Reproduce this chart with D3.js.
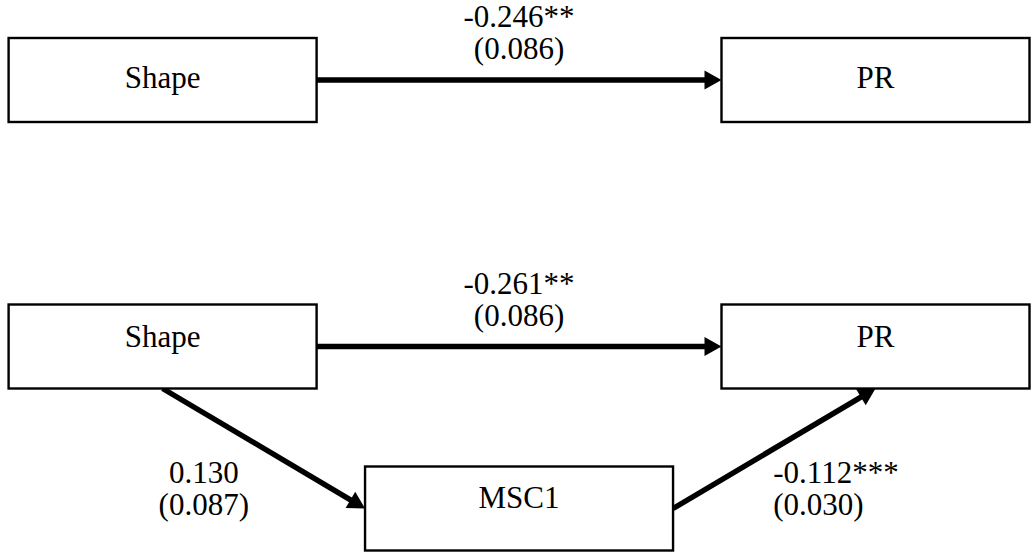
<!DOCTYPE html>
<html>
<head>
<meta charset="utf-8">
<script src="https://cdn.jsdelivr.net/npm/d3@7"></script>
<style>
  body { margin: 0; background: #fff; }
</style>
</head>
<body>
<div id="canvas"></div>
<script>
// variables in the diagram
var nodeNames = ["Shape", "MSC1", "PR"];
var panels = ["total", "mediated"];

// panel 1: total effect
var totalNodes = ["Shape", "PR"];
var totalPaths = [["Shape", "PR"]];
var totalCoefs = ["-0.246**"];
var totalErrors = ["(0.086)"];

// panel 2: mediation model
var mediatedNodes = ["Shape", "PR", "MSC1"];
var mediatedPaths = [["Shape", "PR"], ["Shape", "MSC1"], ["MSC1", "PR"]];
var mediatedCoefs = ["-0.261**", "0.130", "-0.112***"];
var mediatedErrors = ["(0.086)", "(0.087)", "(0.030)"];

var Diagram = (function() {
    var that = { svg : null, w : 1033, h : 552, boxW : 308, boxH : 84, rowStep : 162, arrowLen : 17, arrowHalf : 9.5 };
    var font = "'Liberation Serif', 'DejaVu Serif', 'Times New Roman', serif";
    var x = d3.scalePoint().domain(nodeNames).range([162.6, 875.5]);
    var y = d3.scalePoint().domain(panels).range([80, 346.5]);
    // mediator sits one row lower
    var row = { "Shape" : 0, "PR" : 0, "MSC1" : 1 };
    // text baseline offset from box top, per panel
    var textDy = { "total" : 50, "mediated" : 42 };

    that.init = function() {
        that.svg = d3.select("#canvas").append("svg")
            .attr("width", that.w).attr("height", that.h)
            .attr("font-family", font);
    };
    function center(panel, name) {
        return { x : x(name), y : y(panel) + row[name] * that.rowStep };
    }
    that.addNodes = function(panel, names) {
        var g = that.svg.append("g").attr("name", panel + "-nodes");
        var groups = g.selectAll("g").data(names).enter().append("g")
            .attr("transform", function(d) {
                var c = center(panel, d);
                return "translate(" + (c.x - that.boxW / 2) + "," + (c.y - that.boxH / 2) + ")";
            });
        groups.append("rect")
            .attr("width", that.boxW).attr("height", that.boxH)
            .attr("fill", "#fff").attr("stroke", "#000").attr("stroke-width", 2.4);
        groups.append("text")
            .attr("x", that.boxW / 2)
            .attr("y", d => row[d] ? 41 : textDy[panel])
            .attr("text-anchor", "middle")
            .attr("font-family", font)
            .attr("font-size", 31)
            .attr("fill", "#000")
            .text(d => d);
    };
    that.addPaths = function(panel, paths, coefs, errors) {
        var g = that.svg.append("g").attr("name", panel + "-paths");
        paths.forEach(function(p, i) {
            var s = center(panel, p[0]), t = center(panel, p[1]);
            var a, b, label;
            if (row[p[0]] == row[p[1]]) {
                // straight across: right edge to left edge
                a = { x : s.x + that.boxW / 2, y : s.y };
                b = { x : t.x - that.boxW / 2, y : t.y };
                label = { x : (a.x + b.x) / 2, y : a.y - 53, anchor : "middle" };
            } else if (row[p[1]] > row[p[0]]) {
                // down: bottom centre to left edge
                a = { x : s.x, y : s.y + that.boxH / 2 };
                b = { x : t.x - that.boxW / 2, y : t.y };
                label = { x : (a.x + b.x) / 2 - 60, y : (a.y + b.y) / 2 + 34, anchor : "middle" };
            } else {
                // up: right edge to bottom centre
                a = { x : s.x + that.boxW / 2, y : s.y };
                b = { x : t.x, y : t.y + that.boxH / 2 };
                label = { x : (a.x + b.x) / 2 - 1, y : (a.y + b.y) / 2 + 34, anchor : "start" };
            }
            var ang = Math.atan2(b.y - a.y, b.x - a.x);
            var cos = Math.cos(ang), sin = Math.sin(ang);
            var base = { x : b.x - that.arrowLen * cos, y : b.y - that.arrowLen * sin };
            g.append("line")
                .attr("x1", a.x).attr("y1", a.y)
                .attr("x2", base.x + 2 * cos).attr("y2", base.y + 2 * sin)
                .attr("stroke", "#000").attr("stroke-width", 5.5);
            var head = [
                [b.x, b.y],
                [base.x - that.arrowHalf * sin, base.y + that.arrowHalf * cos],
                [base.x + that.arrowHalf * sin, base.y - that.arrowHalf * cos]
            ];
            g.append("path").attr("d", d3.line()(head) + "Z").attr("fill", "#000");

            var txt = g.append("text")
                .attr("text-anchor", label.anchor)
                .attr("font-family", font)
                .attr("font-size", 31)
                .attr("fill", "#000");
            txt.append("tspan").attr("x", label.x).attr("y", label.y).text(coefs[i]);
            txt.append("tspan").attr("x", label.x).attr("y", label.y + 32).text(errors[i]);
        });
    };
    return that;
})();

Diagram.init();
Diagram.addPaths("total", totalPaths, totalCoefs, totalErrors);
Diagram.addNodes("total", totalNodes);
Diagram.addPaths("mediated", mediatedPaths, mediatedCoefs, mediatedErrors);
Diagram.addNodes("mediated", mediatedNodes);
</script>
</body>
</html>
